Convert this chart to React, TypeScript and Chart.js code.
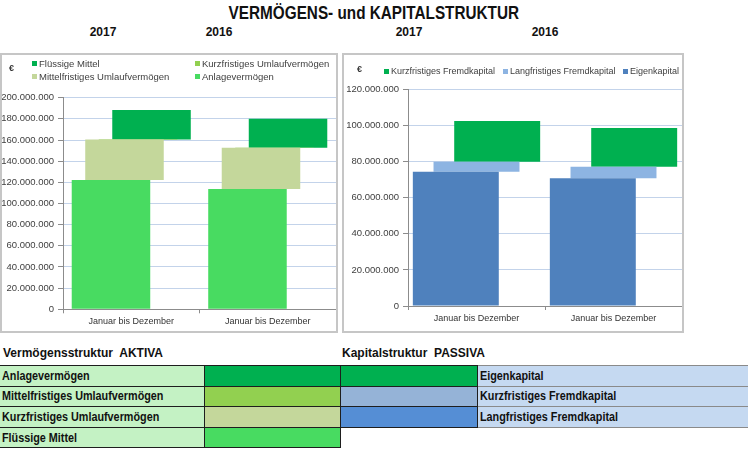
import React, { useEffect, useRef } from 'react';
import { Chart, registerables } from 'chart.js';

Chart.register(...registerables);

// ---------- data ----------
const titleText = 'VERMÖGENS- und KAPITALSTRUKTUR';
const yearLabels = ['2017', '2016'];
const periodLabels = ['Januar bis Dezember', 'Januar bis Dezember'];

// Aktiva (floating ranges [from, to] in €)
const anlagevermoegen = [[0, 122100000], [0, 113700000]];
const mittelfristigesUV = [[122100000, 160600000], [113700000, 152600000]];
const kurzfristigesUV = [[160600000, 160900000], [152600000, 152900000]];
const fluessigeMittel = [[160600000, 188400000], [152600000, 180000000]];
const aktivaMax = 200000000;
const aktivaStep = 20000000;

// Passiva (floating ranges [from, to] in €)
const eigenkapital = [[0, 74300000], [0, 70700000]];
const langfristigesFK = [[74300000, 79900000], [70700000, 77100000]];
const kurzfristigesFK = [[79900000, 102400000], [77100000, 98600000]];
const passivaMax = 120000000;
const passivaStep = 20000000;

const aktivaNames = ['Anlagevermögen', 'Mittelfristiges Umlaufvermögen', 'Kurzfristiges Umlaufvermögen', 'Flüssige Mittel'];
const aktivaColors = ['#48DB61', '#C4D79B', '#92D050', '#00B050'];
const passivaNames = ['Eigenkapital', 'Langfristiges Fremdkapital', 'Kurzfristiges Fremdkapital'];
const passivaColors = ['#4F81BD', '#8DB4E2', '#00B050'];

// Legend table below the charts
const tableLeftLabels = ['Anlagevermögen', 'Mittelfristiges Umlaufvermögen', 'Kurzfristiges Umlaufvermögen', 'Flüssige Mittel'];
const tableLeftColors = ['#00B050', '#92D050', '#C4D79B', '#48DB61'];
const tableRightColors = ['#00B050', '#95B3D7', '#558ED5'];
const tableRightLabels = ['Eigenkapital', 'Kurzfristiges Fremdkapital', 'Langfristiges Fremdkapital'];

const FONT = '"Liberation Sans", Arial, sans-serif';
const GRID = '#C3D3EA';
const AXIS = '#8C8C8C';

const fmt = (v: number) => Math.round(v).toString().replace(/\B(?=(\d{3})+(?!\d))/g, '.');

type PanelProps = {
  names: string[];
  colors: string[];
  data: number[][][];
  max: number;
  step: number;
  left: number;
  top: number;
  width: number;
  height: number;
  yWidth: number;
  xHeight: number;
  padTop: number;
  catPct: number;
  barPct: number;
};

function BarPanel(p: PanelProps) {
  const ref = useRef<HTMLCanvasElement | null>(null);
  useEffect(() => {
    if (!ref.current) return;
    const chart = new Chart(ref.current, {
      type: 'bar',
      data: {
        labels: periodLabels,
        datasets: p.names.map((n, i) => ({
          label: n,
          data: p.data[i] as any,
          backgroundColor: p.colors[i],
          borderWidth: 0,
          categoryPercentage: p.catPct,
          barPercentage: p.barPct,
        })),
      },
      options: {
        animation: false,
        responsive: false,
        maintainAspectRatio: false,
        devicePixelRatio: 1,
        layout: { padding: { top: p.padTop, right: 0, left: 0, bottom: 0 } },
        plugins: {
          legend: { display: false },
          tooltip: { enabled: false },
          title: { display: false },
        },
        scales: {
          x: {
            type: 'category',
            offset: true,
            grid: {
              offset: true,
              drawOnChartArea: false,
              drawTicks: true,
              tickLength: 4,
              tickColor: AXIS,
            },
            border: { display: true, color: AXIS, width: 1 },
            ticks: {
              font: { family: FONT, size: 9 },
              color: '#333333',
              padding: 3,
              maxRotation: 0,
              autoSkip: false,
            },
            afterFit: (s: any) => {
              s.height = p.xHeight;
            },
          },
          y: {
            min: 0,
            max: p.max,
            ticks: {
              stepSize: p.step,
              callback: (v: any) => fmt(Number(v)),
              font: { family: FONT, size: 9.5 },
              color: '#404040',
              padding: 4,
            },
            grid: { color: GRID, tickColor: AXIS, tickLength: 5, lineWidth: 1 },
            border: { display: true, color: AXIS, width: 1 },
            afterFit: (s: any) => {
              s.width = p.yWidth;
            },
          },
        },
      } as any,
    });
    return () => chart.destroy();
  }, []);
  return (
    <canvas
      ref={ref}
      width={p.width}
      height={p.height}
      style={{ position: 'absolute', left: p.left, top: p.top, width: p.width, height: p.height }}
    />
  );
}

function LegendItem({ x, y, color, text, size }: { x: number; y: number; color: string; text: string; size: number }) {
  return (
    <div
      style={{
        position: 'absolute',
        left: x,
        top: y - 7,
        height: 14,
        display: 'flex',
        alignItems: 'center',
        whiteSpace: 'nowrap',
        fontFamily: FONT,
        fontSize: size,
        color: '#404040',
      }}
    >
      <span style={{ display: 'inline-block', width: 5, height: 5, background: color, marginRight: 2 }} />
      <span>{text}</span>
    </div>
  );
}

export default function App() {
  // legend order = reversed series order (as in the original chart)
  const aLegendIdx = [3, 2, 1, 0];
  const aLegendPos = [
    [32, 63],
    [195, 63],
    [32, 76],
    [195, 76],
  ];
  const pLegendIdx = [2, 1, 0];
  const pLegendPos = [
    [384, 71],
    [503, 71],
    [623, 71],
  ];

  const yearPos = [103, 219, 409, 545];
  const yearTexts = [...yearLabels, ...yearLabels];

  const cellBase: React.CSSProperties = {
    padding: '0 0 0 2px',
    height: 20.6,
    fontFamily: FONT,
    fontWeight: 'bold',
    fontSize: 12,
    color: '#111111',
    whiteSpace: 'nowrap',
    overflow: 'hidden',
    boxSizing: 'border-box',
  };
  const dark = '1px solid #1e1e1e';
  const grey = '1px solid #8a8a8a';

  return (
    <div
      style={{
        position: 'fixed',
        left: 0,
        top: 0,
        width: 748,
        height: 449,
        background: '#ffffff',
        overflow: 'hidden',
        fontFamily: FONT,
      }}
    >
      <div style={{ position: 'absolute', left: 0, top: 3, width: 748, textAlign: 'center' }}>
        <span
          style={{
            display: 'inline-block',
            fontSize: 18,
            fontWeight: 'bold',
            color: '#111',
            transform: 'scaleX(0.85)',
            whiteSpace: 'nowrap',
          }}
        >
          {titleText}
        </span>
      </div>
      {yearPos.map((x, i) => (
        <div
          key={'y' + i}
          style={{
            position: 'absolute',
            left: x - 30,
            top: 25,
            width: 60,
            textAlign: 'center',
            fontSize: 12,
            fontWeight: 'bold',
            color: '#111',
          }}
        >
          {yearTexts[i]}
        </div>
      ))}

      {/* left chart frame */}
      <div
        style={{
          position: 'absolute',
          left: 0,
          top: 53,
          width: 338,
          height: 280,
          border: '2px solid #C6C6C6',
          boxSizing: 'border-box',
        }}
      />
      <BarPanel
        names={aktivaNames}
        colors={aktivaColors}
        data={[anlagevermoegen, mittelfristigesUV, kurzfristigesUV, fluessigeMittel]}
        max={aktivaMax}
        step={aktivaStep}
        left={2}
        top={55}
        width={334}
        height={276}
        yWidth={61}
        xHeight={21.7}
        padTop={42.7}
        catPct={0.396}
        barPct={5.81}
      />
      <div style={{ position: 'absolute', left: 9, top: 63, fontSize: 9, fontWeight: 'bold', color: '#333' }}>€</div>
      {aLegendIdx.map((si, k) => (
        <LegendItem
          key={'al' + k}
          x={aLegendPos[k][0]}
          y={aLegendPos[k][1]}
          color={aktivaColors[si]}
          text={aktivaNames[si]}
          size={9.5}
        />
      ))}

      {/* right chart frame */}
      <div
        style={{
          position: 'absolute',
          left: 342,
          top: 53,
          width: 342,
          height: 280,
          border: '2px solid #C6C6C6',
          boxSizing: 'border-box',
        }}
      />
      <BarPanel
        names={passivaNames}
        colors={passivaColors}
        data={[eigenkapital, langfristigesFK, kurzfristigesFK]}
        max={passivaMax}
        step={passivaStep}
        left={344}
        top={55}
        width={338}
        height={276}
        yWidth={64}
        xHeight={25}
        padTop={34.3}
        catPct={0.453}
        barPct={4.155}
      />
      <div style={{ position: 'absolute', left: 357, top: 64, fontSize: 9, fontWeight: 'bold', color: '#333' }}>€</div>
      {pLegendIdx.map((si, k) => (
        <LegendItem
          key={'pl' + k}
          x={pLegendPos[k][0]}
          y={pLegendPos[k][1]}
          color={passivaColors[si]}
          text={passivaNames[si]}
          size={9}
        />
      ))}

      {/* section headings */}
      <div
        style={{
          position: 'absolute',
          left: 3,
          top: 346,
          fontSize: 12,
          fontWeight: 'bold',
          color: '#111',
          whiteSpace: 'pre',
        }}
      >
        {'Vermögensstruktur  AKTIVA'}
      </div>
      <div
        style={{
          position: 'absolute',
          left: 342,
          top: 346,
          fontSize: 12,
          fontWeight: 'bold',
          color: '#111',
          whiteSpace: 'pre',
        }}
      >
        {'Kapitalstruktur  PASSIVA'}
      </div>

      <table
        style={{
          position: 'absolute',
          left: 0,
          top: 365,
          width: 748,
          borderCollapse: 'collapse',
          tableLayout: 'fixed',
        }}
      >
        <colgroup>
          <col style={{ width: 204 }} />
          <col style={{ width: 136 }} />
          <col style={{ width: 137 }} />
          <col style={{ width: 271 }} />
        </colgroup>
        <tbody>
          {tableLeftLabels.map((lab, r) => (
            <tr key={'r' + r}>
              <td style={{ ...cellBase, background: '#C4F2C4', border: dark, borderLeft: 'none' }}>
                <span style={{ display: 'inline-block', transform: 'scaleX(0.9)', transformOrigin: 'left center' }}>
                  {lab}
                </span>
              </td>
              <td style={{ ...cellBase, background: tableLeftColors[r], border: dark }} />
              {r < tableRightColors.length ? (
                <td style={{ ...cellBase, background: tableRightColors[r], border: dark }} />
              ) : (
                <td style={{ ...cellBase, border: 'none' }} />
              )}
              {r < tableRightLabels.length ? (
                <td style={{ ...cellBase, background: '#C5D9F1', border: grey }}>
                  <span style={{ display: 'inline-block', transform: 'scaleX(0.9)', transformOrigin: 'left center' }}>
                    {tableRightLabels[r]}
                  </span>
                </td>
              ) : (
                <td style={{ ...cellBase, border: 'none' }} />
              )}
            </tr>
          ))}
        </tbody>
      </table>
    </div>
  );
}
